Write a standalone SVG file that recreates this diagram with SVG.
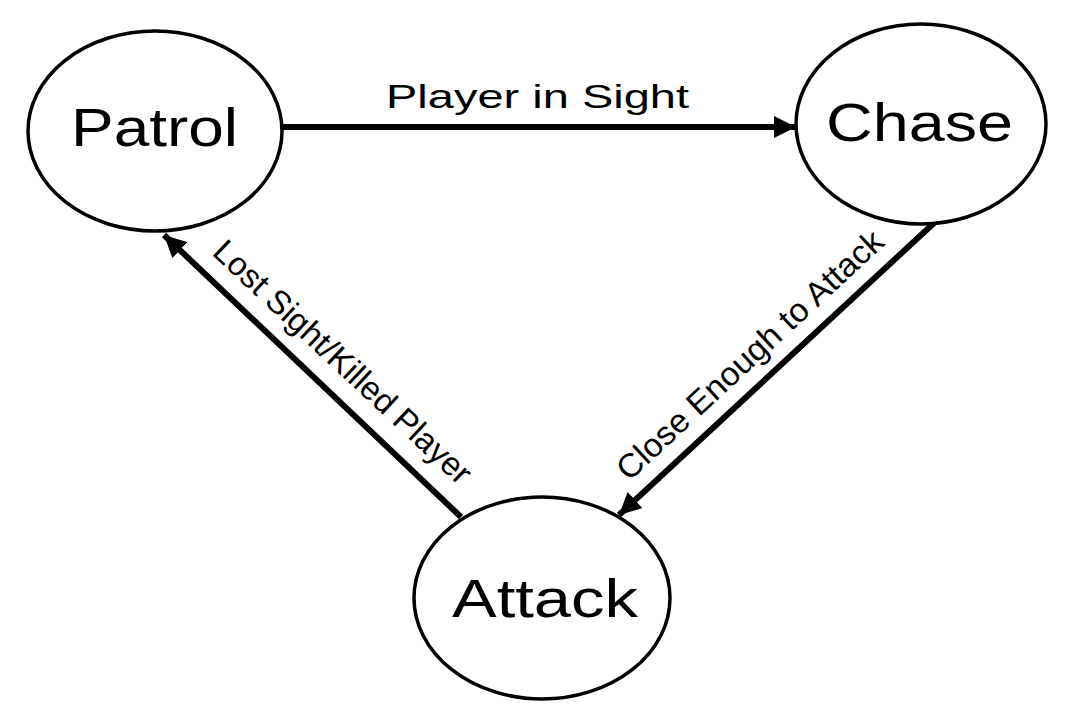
<svg xmlns="http://www.w3.org/2000/svg" width="1080" height="720" viewBox="0 0 1080 720">
<style>
.node{fill:#fff;stroke:#000;stroke-width:3.5}
.name{font-family:"Liberation Sans",Arial,Helvetica,sans-serif;font-size:53px;fill:#000}
.lbl{font-family:"Liberation Sans",Arial,Helvetica,sans-serif;font-size:33px;fill:#000}
.edge{stroke:#000;stroke-width:6;fill:none;marker-end:url(#arr)}
</style>
<defs>
<marker id="arr" markerUnits="userSpaceOnUse" markerWidth="22" markerHeight="22" refX="20" refY="10" orient="auto" viewBox="0 0 20 20">
<path d="M0,0 L20,10 L0,20 z" fill="#000"/>
</marker>
</defs>
<rect width="1080" height="720" fill="#fff"/>
<g id="connectors">
<line class="edge" x1="282" y1="127" x2="796" y2="127"/>
<line class="edge" x1="934" y1="223" x2="619" y2="515"/>
<line class="edge" x1="461" y1="517" x2="164" y2="235"/>
<text class="lbl" x="386" y="108" textLength="303" lengthAdjust="spacingAndGlyphs">Player in Sight</text>
<text class="lbl" transform="translate(629,482) rotate(-42.8)" textLength="350" lengthAdjust="spacingAndGlyphs">Close Enough to Attack</text>
<text class="lbl" transform="translate(211,254) rotate(43.1)" textLength="340" lengthAdjust="spacingAndGlyphs">Lost Sight/Killed Player</text>
</g>
<g id="patrol">
<ellipse class="node" cx="155" cy="131" rx="127" ry="100"/>
<text class="name" x="71" y="146" textLength="167" lengthAdjust="spacingAndGlyphs">Patrol</text>
</g>
<g id="chase">
<ellipse class="node" cx="921" cy="124" rx="125" ry="100"/>
<text class="name" x="826" y="141" textLength="187" lengthAdjust="spacingAndGlyphs">Chase</text>
</g>
<g id="attack">
<ellipse class="node" cx="542" cy="598" rx="128" ry="101"/>
<text class="name" x="452" y="617" textLength="186" lengthAdjust="spacingAndGlyphs">Attack</text>
</g>
</svg>
